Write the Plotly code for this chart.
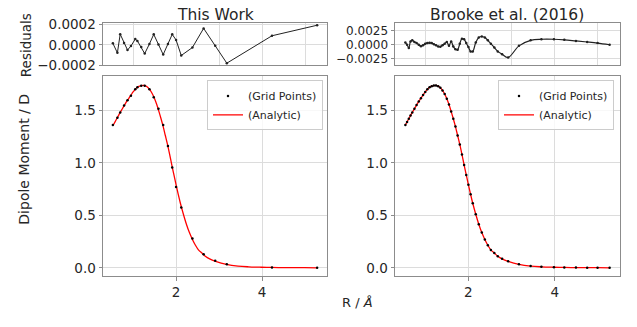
import plotly.graph_objects as go

# ---------------- data ----------------
# This Work: grid points
r_tw = [0.53, 0.635, 0.70, 0.79, 0.87, 0.95, 1.05, 1.10, 1.19, 1.27, 1.38, 1.48, 1.59,
        1.70, 1.81, 1.91, 2.00, 2.12, 2.38, 2.64, 2.91, 3.18, 4.23, 5.28]
mu_tw = [1.36, 1.43, 1.48, 1.545, 1.595, 1.64, 1.70, 1.72, 1.735, 1.735, 1.70, 1.625, 1.515,
         1.36, 1.16, 0.955, 0.77, 0.575, 0.28, 0.13, 0.066, 0.033, 0.003, 0.0]
res_tw = [0.000016, -0.000078, 0.000107, 0.00002, -0.00005, -0.00001, 0.000058, 0.00004,
          -0.00002, -0.000085, 0.00001, 0.000105, 0.000005, -0.000095, 0.00001, 0.000105,
          0.000049, -0.000104, -0.000025, 0.000164, -0.000008, -0.00018, 0.000091, 0.000195]

# Brooke et al. (2016): grid points
r_br = [0.54, 0.58, 0.62, 0.66, 0.70, 0.75, 0.80, 0.85, 0.90, 0.95, 1.00, 1.05, 1.10, 1.15,
        1.20, 1.25, 1.30, 1.35, 1.40, 1.45, 1.50, 1.55, 1.60, 1.65, 1.70, 1.75, 1.80, 1.85,
        1.90, 1.95, 2.00, 2.05, 2.10, 2.17, 2.24, 2.31, 2.38, 2.45, 2.52, 2.60, 2.68, 2.78,
        2.92, 3.17, 3.44, 3.69, 3.98, 4.22, 4.49, 4.75, 4.99, 5.27]
mu_br = [1.36, 1.39, 1.42, 1.45, 1.48, 1.515, 1.55, 1.585, 1.615, 1.645, 1.675, 1.70, 1.72,
         1.73, 1.736, 1.737, 1.73, 1.715, 1.69, 1.655, 1.61, 1.555, 1.49, 1.42, 1.345, 1.26,
         1.175, 1.08, 0.98, 0.885, 0.79, 0.70, 0.615, 0.51, 0.415, 0.335, 0.27, 0.215, 0.17,
         0.14, 0.11, 0.085, 0.062, 0.033, 0.016, 0.009, 0.005, 0.003, 0.002, 0.001, 0.0005, 0.0]
res_br = [0.0004, 0.0, -0.0006, 0.0006, 0.0008, 0.0005, 0.0003, 0.0, -0.00025, -0.0001,
          0.0002, 0.0003, 0.00035, 0.0003, 0.0001, -0.0001, -0.0003, -0.00035, -0.0001,
          0.0002, 0.0005, -0.0002, 0.0006, -0.0003, -0.0008, -0.0009, 0.0002, 0.0011, 0.001,
          0.0003, -0.0004, -0.0012, -0.0012, 0.0004, 0.0013, 0.0015, 0.0013, 0.0008, 0.0002,
          -0.0005, -0.0012, -0.0017, -0.0023, -0.0002, 0.0008, 0.001, 0.001, 0.0009, 0.0007,
          0.0005, 0.0003, 0.0]

# Analytic curve samples (same function)
r_an = r_br
mu_an = mu_br

titles = ["This Work", "Brooke et al. (2016)"]

# ---------------- figure ----------------
W, H = 637, 327
FONT = "DejaVu Sans"
TXT = "#262626"
GRID = "#dcdcdc"
SPINE = "#8c8c8c"

fig = go.Figure()

def px_x(p):
    return p / W

def px_y(p):
    return 1 - p / H

xl = [px_x(103), px_x(327)]
xr = [px_x(395), px_x(620)]
yb = [px_y(282), px_y(72)]
yt = [px_y(61), px_y(17)]

# bottom-left: analytic + grid points
fig.add_trace(go.Scatter(x=r_an, y=mu_an, mode="lines", line=dict(color="red", width=1.3, shape="spline"),
                         name="(Analytic)", xaxis="x", yaxis="y", legend="legend", legendrank=2))
fig.add_trace(go.Scatter(x=r_tw, y=mu_tw, mode="markers", marker=dict(color="black", size=2.5),
                         name="(Grid Points)", xaxis="x", yaxis="y", legend="legend", legendrank=1))
# top-left residuals
fig.add_trace(go.Scatter(x=r_tw, y=res_tw, mode="lines+markers", line=dict(color="#222", width=1),
                         marker=dict(color="#222", size=2.5), showlegend=False, xaxis="x2", yaxis="y2"))
# bottom-right
fig.add_trace(go.Scatter(x=r_an, y=mu_an, mode="lines", line=dict(color="red", width=1.3, shape="spline"),
                         name="(Analytic)", xaxis="x3", yaxis="y3", legend="legend2", legendrank=2))
fig.add_trace(go.Scatter(x=r_br, y=mu_br, mode="markers", marker=dict(color="black", size=2.5),
                         name="(Grid Points)", xaxis="x3", yaxis="y3", legend="legend2", legendrank=1))
# top-right residuals
fig.add_trace(go.Scatter(x=r_br, y=res_br, mode="lines+markers", line=dict(color="#222", width=1.2, shape="spline"),
                         marker=dict(color="#222", size=2.5), showlegend=False, xaxis="x4", yaxis="y4"))

xrange = [0.30, 5.51]
common = dict(showline=True, mirror=True, linecolor=SPINE, linewidth=1, gridcolor=GRID, gridwidth=1,
              zeroline=False, tickfont=dict(family=FONT, size=13.5, color=TXT),
              ticks="outside", ticklen=3.5, tickcolor=SPINE)
noticks = {k: v for k, v in common.items() if k != "ticks"}
small = {k: v for k, v in common.items() if k != "tickfont"}

fig.update_layout(
    width=W, height=H, margin=dict(l=0, r=0, t=0, b=0),
    paper_bgcolor="white", plot_bgcolor="white",
    font=dict(family=FONT, color=TXT),
    xaxis=dict(domain=xl, anchor="y", range=xrange, tickvals=[2, 4], **common),
    yaxis=dict(domain=yb, anchor="x", range=[-0.079, 1.83], tickvals=[0, 0.5, 1.0, 1.5],
               tickformat=".1f", **common),
    xaxis2=dict(domain=xl, anchor="y2", range=xrange, dtick=1, tick0=0, showticklabels=False,
                ticks="", **noticks),
    yaxis2=dict(domain=yt, anchor="x2", range=[-0.0002, 0.000215], tickvals=[-0.0002, 0, 0.0002],
                tickformat=".4f", **common),
    xaxis3=dict(domain=xr, anchor="y3", range=xrange, tickvals=[2, 4], **common),
    yaxis3=dict(domain=yb, anchor="x3", range=[-0.079, 1.83], tickvals=[0, 0.5, 1.0, 1.5],
                tickformat=".1f", **common),
    xaxis4=dict(domain=xr, anchor="y4", range=xrange, dtick=1, tick0=0, showticklabels=False,
                ticks="", **noticks),
    yaxis4=dict(domain=yt, anchor="x4", range=[-0.0037, 0.0039], tickvals=[-0.0025, 0, 0.0025],
                tickformat=".4f", tickfont=dict(family=FONT, size=12, color=TXT), **small),
    legend=dict(x=px_x(323), y=px_y(77), xanchor="right", yanchor="top",
                bgcolor="rgba(255,255,255,0.8)", bordercolor="#cccccc", borderwidth=1,
                font=dict(family=FONT, size=11, color=TXT), tracegroupgap=0, itemwidth=30),
    legend2=dict(x=px_x(614), y=px_y(77), xanchor="right", yanchor="top",
                 bgcolor="rgba(255,255,255,0.8)", bordercolor="#cccccc", borderwidth=1,
                 font=dict(family=FONT, size=11, color=TXT), tracegroupgap=0, itemwidth=30),
)

ann = [
    dict(text=titles[0], x=px_x(215), y=px_y(8), font=dict(size=15.5)),
    dict(text=titles[1], x=px_x(507), y=px_y(8), font=dict(size=15.5)),
    dict(text="Residuals", x=px_x(26), y=px_y(40), textangle=-90, font=dict(size=13.5)),
    dict(text="Dipole Moment / D", x=px_x(24), y=px_y(160), textangle=-90, font=dict(size=14)),
    dict(text="R / <i>Å</i>", x=px_x(357), y=px_y(310), font=dict(size=13)),
]
for a in ann:
    f = dict(family=FONT, color=TXT)
    f.update(a.pop("font"))
    fig.add_annotation(xref="paper", yref="paper", showarrow=False, xanchor="center",
                       yanchor="middle", font=f, **a)

fig.write_html("out.html")
